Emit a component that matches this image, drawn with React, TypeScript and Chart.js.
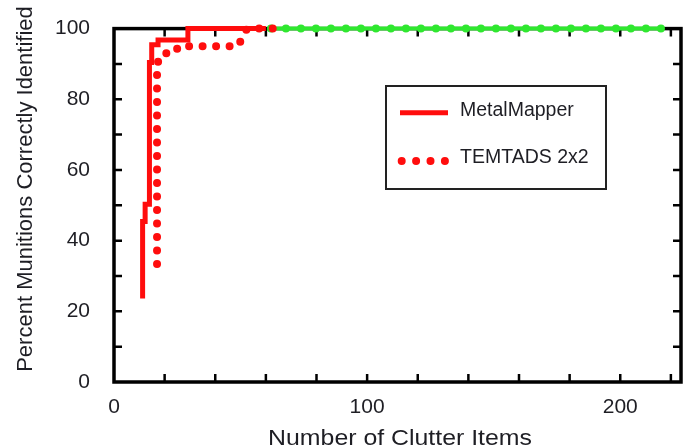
import { useEffect, useRef } from 'react';
import { Chart, registerables } from 'chart.js';

Chart.register(...registerables);

const FONT = '"Liberation Sans", Arial, Helvetica, sans-serif';
const TEXT = '#1e1e24';

// Axis ranges and ticks
const xMin = 0;
const xMax = 224;
const yMin = 0;
const yMax = 100;
const xLabelStep = 100;
const yLabelStep = 20;
const xMarkTicks = [20, 40, 60, 80, 100, 120, 140, 160, 180, 200, 220];
const yMarkTicks = [10, 20, 30, 40, 50, 60, 70, 80, 90];

// Series: MetalMapper (solid step curve)
const metalX = [11.3, 11.3, 12.3, 12.3, 14, 14, 14.9, 14.9, 17.4, 17.4, 29.2, 29.2, 60];
const metalY = [23.6, 45.4, 45.4, 50.3, 50.3, 90.4, 90.4, 95.4, 95.4, 96.8, 96.8, 100, 100];

// Series: TEMTADS 2x2 (dotted curve)
const temX = [17, 17, 19, 24, 25.5, 49, 50.5, 52.5, 66];
const temY = [33.4, 90, 93, 93, 95, 95, 97.2, 100, 100];

// Series: green dotted line at 100%
const greenX = [62, 217];
const greenY = [100, 100];

const labels = ['MetalMapper', 'TEMTADS 2x2'];
const xTitle = 'Number of Clutter Items';
const yTitle = 'Percent Munitions Correctly Identified';

const RED = '#ff0d0d';
const GREEN = '#2fe82f';

const toPts = (xs: number[], ys: number[]) => xs.map((x, i) => ({ x, y: ys[i] }));

const framePlugin = {
  id: 'frameTicks',
  beforeDatasetsDraw(chart: any) {
    const { ctx, chartArea: a, scales } = chart;
    const x = scales.x;
    const y = scales.y;
    ctx.save();
    ctx.strokeStyle = '#000';
    ctx.lineWidth = 2.5;
    ctx.beginPath();
    for (const v of xMarkTicks) {
      const px = x.getPixelForValue(v);
      ctx.moveTo(px, a.bottom);
      ctx.lineTo(px, a.bottom - 8);
      ctx.moveTo(px, a.top);
      ctx.lineTo(px, a.top + 8);
    }
    for (const v of yMarkTicks) {
      const py = y.getPixelForValue(v);
      ctx.moveTo(a.left, py);
      ctx.lineTo(a.left + 8, py);
      ctx.moveTo(a.right, py);
      ctx.lineTo(a.right - 8, py);
    }
    ctx.stroke();
    ctx.lineWidth = 3.5;
    ctx.lineJoin = 'miter';
    ctx.strokeRect(a.left, a.top, a.right - a.left, a.bottom - a.top);
    ctx.restore();
  },
  afterDraw(chart: any) {
    const { ctx } = chart;
    ctx.save();
    // Axis titles
    ctx.fillStyle = TEXT;
    ctx.font = `22px ${FONT}`;
    ctx.textAlign = 'center';
    ctx.textBaseline = 'alphabetic';
    ctx.save();
    ctx.translate(400, 445);
    ctx.scale(1.13, 1);
    ctx.fillText(xTitle, 0, 0);
    ctx.restore();
    ctx.save();
    ctx.translate(31.5, 189);
    ctx.rotate(-Math.PI / 2);
    ctx.fillText(yTitle, 0, 0);
    ctx.restore();

    // Legend box
    ctx.fillStyle = '#fff';
    ctx.fillRect(386, 86, 220, 103);
    ctx.strokeStyle = '#222';
    ctx.lineWidth = 2;
    ctx.strokeRect(386, 86, 220, 103);
    // solid sample
    ctx.strokeStyle = RED;
    ctx.lineWidth = 5;
    ctx.lineCap = 'butt';
    ctx.beginPath();
    ctx.moveTo(400, 112.7);
    ctx.lineTo(448, 112.7);
    ctx.stroke();
    // dotted sample
    ctx.lineWidth = 8;
    ctx.lineCap = 'round';
    ctx.setLineDash([0, 14.4]);
    ctx.beginPath();
    ctx.moveTo(401.7, 161);
    ctx.lineTo(446, 161);
    ctx.stroke();
    ctx.setLineDash([]);
    ctx.fillStyle = TEXT;
    ctx.font = `19.5px ${FONT}`;
    ctx.textAlign = 'left';
    ctx.fillText(labels[0], 460, 115.7);
    ctx.fillText(labels[1], 460, 163.3);
    ctx.restore();
  },
};

export default function App() {
  const ref = useRef<HTMLCanvasElement | null>(null);
  useEffect(() => {
    document.body.style.margin = '0';
    const canvas = ref.current;
    if (!canvas) return;
    const chart = new Chart(canvas, {
      type: 'line',
      data: {
        datasets: [
          {
            label: labels[1],
            data: toPts(temX, temY),
            borderColor: RED,
            borderWidth: 8,
            borderDash: [0, 13.5],
            borderCapStyle: 'round',
            pointRadius: 0,
            fill: false,
            tension: 0,
            clip: false,
          },
          {
            label: labels[0],
            data: toPts(metalX, metalY),
            borderColor: RED,
            borderWidth: 5,
            borderCapStyle: 'butt',
            borderJoinStyle: 'miter',
            pointRadius: 0,
            fill: false,
            tension: 0,
            clip: false,
          },
          {
            label: 'green-dots',
            data: toPts(greenX, greenY),
            borderColor: GREEN,
            borderWidth: 8,
            borderDash: [0, 15],
            borderCapStyle: 'round',
            pointRadius: 0,
            fill: false,
            clip: false,
          },
          {
            label: 'green-line',
            data: toPts(greenX, greenY),
            borderColor: GREEN,
            borderWidth: 4,
            pointRadius: 0,
            fill: false,
            clip: false,
          },
        ],
      } as any,
      options: {
        animation: false,
        responsive: false,
        maintainAspectRatio: false,
        devicePixelRatio: 1,
        layout: { padding: { left: 0, top: 16.5, right: 9, bottom: 0 } },
        plugins: { legend: { display: false }, tooltip: { enabled: false }, title: { display: false } },
        events: [],
        scales: {
          x: {
            type: 'linear',
            min: xMin,
            max: xMax,
            grid: { display: false },
            border: { display: false },
            ticks: {
              stepSize: xLabelStep,
              includeBounds: false,
              maxRotation: 0,
              autoSkip: false,
              padding: 5,
              color: TEXT,
              font: { size: 21, family: FONT },
            },
            afterFit(s: any) {
              s.height = 66;
            },
          },
          y: {
            type: 'linear',
            min: yMin,
            max: yMax,
            grid: { display: false },
            border: { display: false },
            ticks: {
              stepSize: yLabelStep,
              includeBounds: false,
              autoSkip: false,
              padding: 16,
              color: TEXT,
              font: { size: 21, family: FONT },
            },
            afterFit(s: any) {
              s.width = 114;
            },
          },
        },
      } as any,
      plugins: [framePlugin],
    });
    return () => chart.destroy();
  }, []);
  return (
    <div style={{ width: 690, height: 448 }}>
      <canvas ref={ref} width={690} height={448} style={{ display: 'block' }} />
    </div>
  );
}
